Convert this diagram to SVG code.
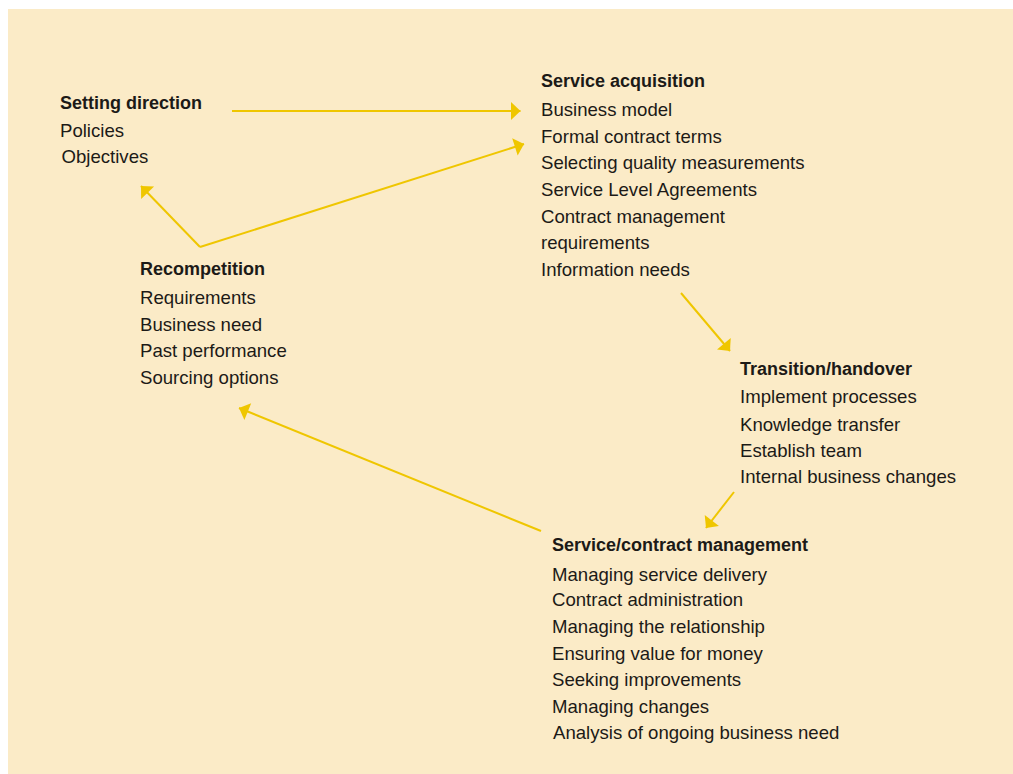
<svg xmlns="http://www.w3.org/2000/svg" width="1013" height="774" viewBox="0 0 1013 774">
<style>
text{font-family:"Liberation Sans",Arial,sans-serif;font-size:18.6px;fill:#1c1a17}
.t{font-weight:bold;font-size:18px}
.c{stroke:#efc600;stroke-width:2;fill:none}
</style>
<defs>
<marker id="ah" markerUnits="userSpaceOnUse" markerWidth="20" markerHeight="20" viewBox="0 0 20 20" refX="10" refY="10" orient="auto">
<path d="M0.5,1 L10,10 L0.5,19 Z" fill="#efc600"/>
</marker>
</defs>
<rect x="8" y="9" width="1005" height="765" fill="#fbebc7"/>
<g id="connectors">
<line class="c" x1="232" y1="111" x2="520.5" y2="111" marker-end="url(#ah)"/>
<line class="c" x1="200" y1="247" x2="141" y2="186" marker-end="url(#ah)"/>
<line class="c" x1="200" y1="247" x2="524" y2="144" marker-end="url(#ah)"/>
<line class="c" x1="681" y1="293" x2="730" y2="351" marker-end="url(#ah)"/>
<line class="c" x1="734" y1="492" x2="706" y2="528" marker-end="url(#ah)"/>
<line class="c" x1="541" y1="531" x2="239" y2="408" marker-end="url(#ah)"/>
</g>
<g id="setting-direction">
<text class="t" x="60" y="108.7">Setting direction</text>
<text x="60" y="137.3">Policies</text>
<text x="61.5" y="163.3">Objectives</text>
</g>
<g id="service-acquisition">
<text class="t" x="541" y="86.7">Service acquisition</text>
<text x="541" y="116">Business model</text>
<text x="541" y="142.7">Formal contract terms</text>
<text x="541" y="169.4">Selecting quality measurements</text>
<text x="541" y="196">Service Level Agreements</text>
<text x="541" y="222.7">Contract management</text>
<text x="541" y="249.4">requirements</text>
<text x="541" y="276">Information needs</text>
</g>
<g id="transition-handover">
<text class="t" x="740" y="375">Transition/handover</text>
<text x="740" y="403.3">Implement processes</text>
<text x="740" y="430.5">Knowledge transfer</text>
<text x="740" y="457">Establish team</text>
<text x="740" y="483.3">Internal business changes</text>
</g>
<g id="service-contract-management">
<text class="t" x="552" y="550.7">Service/contract management</text>
<text x="552" y="580.7">Managing service delivery</text>
<text x="552" y="606.3">Contract administration</text>
<text x="552" y="633.3">Managing the relationship</text>
<text x="552" y="660">Ensuring value for money</text>
<text x="552" y="686.3">Seeking improvements</text>
<text x="552" y="712.8">Managing changes</text>
<text x="553" y="739.3">Analysis of ongoing business need</text>
</g>
<g id="recompetition">
<text class="t" x="140" y="275">Recompetition</text>
<text x="140" y="304">Requirements</text>
<text x="140" y="330.5">Business need</text>
<text x="140" y="357">Past performance</text>
<text x="140" y="383.5">Sourcing options</text>
</g>
</svg>
